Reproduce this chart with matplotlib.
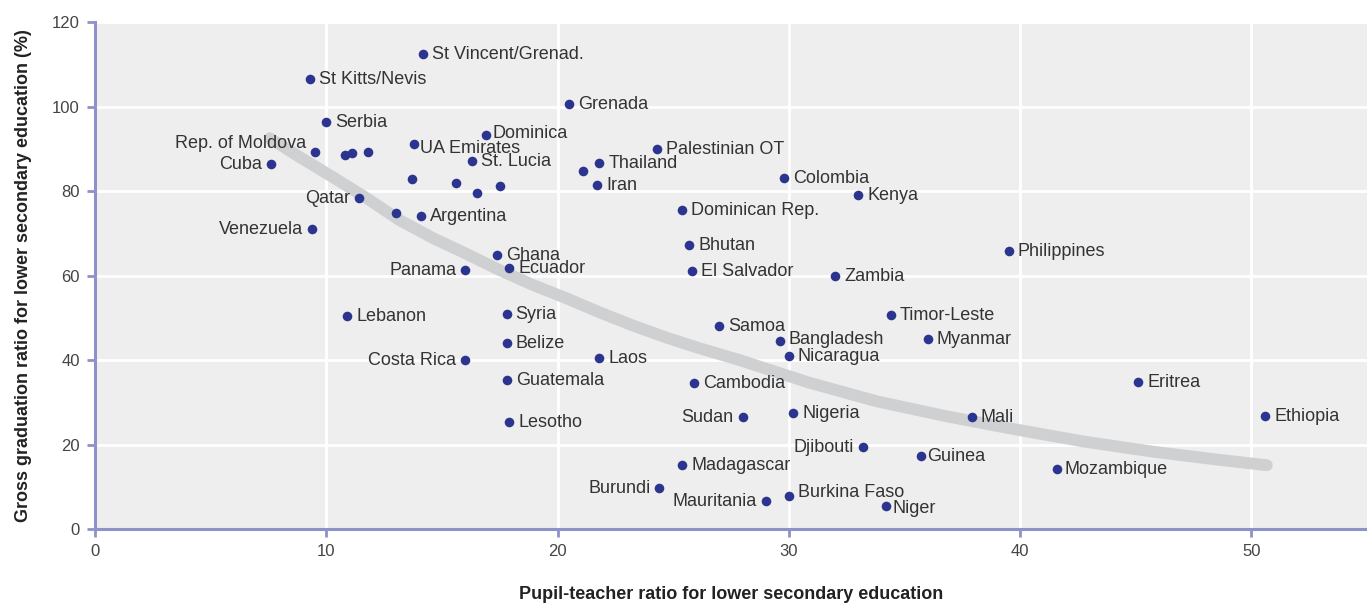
import matplotlib.pyplot as plt

plt.rcParams['font.family'] = ['Liberation Sans', 'DejaVu Sans']

# pupil-teacher ratio, graduation ratio, label ('' = unlabelled point)
countries = ['St Vincent/Grenad.', 'St Kitts/Nevis', 'Serbia', 'Rep. of Moldova', '', '', '',
             'UA Emirates', 'Dominica', 'St. Lucia', 'Cuba', '', '', '', '', 'Qatar', '',
             'Argentina', 'Venezuela', 'Grenada', 'Palestinian OT', 'Thailand', '', 'Iran',
             'Colombia', 'Kenya', 'Dominican Rep.', 'Bhutan', 'El Salvador', 'Zambia',
             'Philippines', 'Ghana', 'Ecuador', 'Panama', 'Lebanon', 'Syria', 'Belize',
             'Costa Rica', 'Laos', 'Guatemala', 'Lesotho', 'Samoa', 'Bangladesh', 'Nicaragua',
             'Timor-Leste', 'Myanmar', 'Cambodia', 'Eritrea', 'Sudan', 'Nigeria', 'Mali',
             'Ethiopia', 'Djibouti', 'Guinea', 'Mozambique', 'Madagascar', 'Burundi',
             'Mauritania', 'Burkina Faso', 'Niger']
ptr = [14.2, 9.3, 10.0, 9.5, 10.8, 11.1, 11.8,
       13.8, 16.9, 16.3, 7.6, 13.7, 15.6, 16.5, 17.5, 11.4, 13.0,
       14.1, 9.4, 20.5, 24.3, 21.8, 21.1, 21.7,
       29.8, 33.0, 25.4, 25.7, 25.8, 32.0,
       39.5, 17.4, 17.9, 16.0, 10.9, 17.8, 17.8,
       16.0, 21.8, 17.8, 17.9, 27.0, 29.6, 30.0,
       34.4, 36.0, 25.9, 45.1, 28.0, 30.2, 37.9,
       50.6, 33.2, 35.7, 41.6, 25.4, 24.4,
       29.0, 30.0, 34.2]
ggr = [112.4, 106.5, 96.3, 89.2, 88.5, 89.0, 89.2,
       91.1, 93.3, 87.1, 86.4, 82.8, 81.9, 79.5, 81.2, 78.3, 74.8,
       74.1, 71.0, 100.6, 89.9, 86.6, 84.7, 81.4,
       83.1, 79.1, 75.5, 67.2, 61.1, 59.9,
       65.8, 64.9, 61.8, 61.3, 50.4, 50.9, 44.0,
       40.0, 40.5, 35.3, 25.3, 48.0, 44.5, 40.9,
       50.7, 45.0, 34.6, 34.8, 26.5, 27.5, 26.5,
       26.7, 19.4, 17.3, 14.2, 15.1, 9.7,
       6.6, 7.8, 5.4]
left_labels = {'Rep. of Moldova', 'Cuba', 'Qatar', 'Venezuela', 'Panama', 'Costa Rica',
               'Sudan', 'Burundi', 'Mauritania', 'Djibouti'}
# a few labels sit off the usual spot
label_nudge = {'Rep. of Moldova': (0, 6.5), 'UA Emirates': (-2.5, -2.5), 'Dominica': (-1.5, 1.5),
               'Bangladesh': (0, 1.5), 'Burkina Faso': (0, 3), 'Niger': (-1.5, -1),
               'Guinea': (-2, 0), 'Mozambique': (-1, 0)}

# trend curve
trend_x = [7.56, 8.86, 10.28, 11.75, 13.17, 14.60, 16.07, 17.49, 18.92, 20.39, 21.81,
           23.24, 24.71, 26.13, 27.86, 30.84, 33.82, 36.80, 39.78, 42.76, 45.75, 48.73, 50.67]
trend_y = [92.5, 88.0, 83.3, 78.3, 73.1, 68.9, 65.1, 61.3, 57.8, 54.6, 51.3,
           48.2, 45.3, 42.8, 40.0, 34.7, 30.2, 26.7, 23.6, 20.7, 18.3, 16.3, 15.1]

axis_col = '#8e92c9'
dot_col = '#2b3590'
text_col = '#333333'

fig = plt.figure(figsize=(13.67, 6.03), dpi=100)
ax = fig.add_axes([0.0695, 0.1227, 0.9305, 0.8408])
ax.set_facecolor('#eeeeee')

ax.plot(trend_x, trend_y, color='#cfd0d2', lw=8.5, solid_capstyle='round',
        solid_joinstyle='round', zorder=2)
ax.scatter(ptr, ggr, s=48, color=dot_col, zorder=3, linewidths=0)

for name, x, y in zip(countries, ptr, ggr):
    if not name:
        continue
    dx, dy = label_nudge.get(name, (0, 0))
    if name in left_labels:
        ax.annotate(name, (x, y), xytext=(-6.5 + dx, -0.5 + dy), textcoords='offset points',
                    ha='right', va='center', fontsize=13, color=text_col, zorder=4)
    else:
        ax.annotate(name, (x, y), xytext=(6.5 + dx, -0.5 + dy), textcoords='offset points',
                    ha='left', va='center', fontsize=13, color=text_col, zorder=4)

ax.set_xlim(0, 55)
ax.set_ylim(0, 120)
ax.set_xticks(range(0, 51, 10))
ax.set_yticks(range(0, 121, 20))
ax.grid(True, color='white', lw=2)
ax.set_axisbelow(True)
for s in ['top', 'right']:
    ax.spines[s].set_visible(False)
for s in ['left', 'bottom']:
    ax.spines[s].set_color(axis_col)
    ax.spines[s].set_linewidth(2.2)
ax.tick_params(colors=axis_col, width=2, length=6, labelsize=12, labelcolor='#444444', pad=5)

ax.set_xlabel('Pupil-teacher ratio for lower secondary education', fontsize=13,
              fontweight='bold', color='#222222', labelpad=19)
ax.set_ylabel('Gross graduation ratio for lower secondary education (%)', fontsize=13,
              fontweight='bold', color='#222222', labelpad=14)

fig.savefig('out.png', dpi=100)
